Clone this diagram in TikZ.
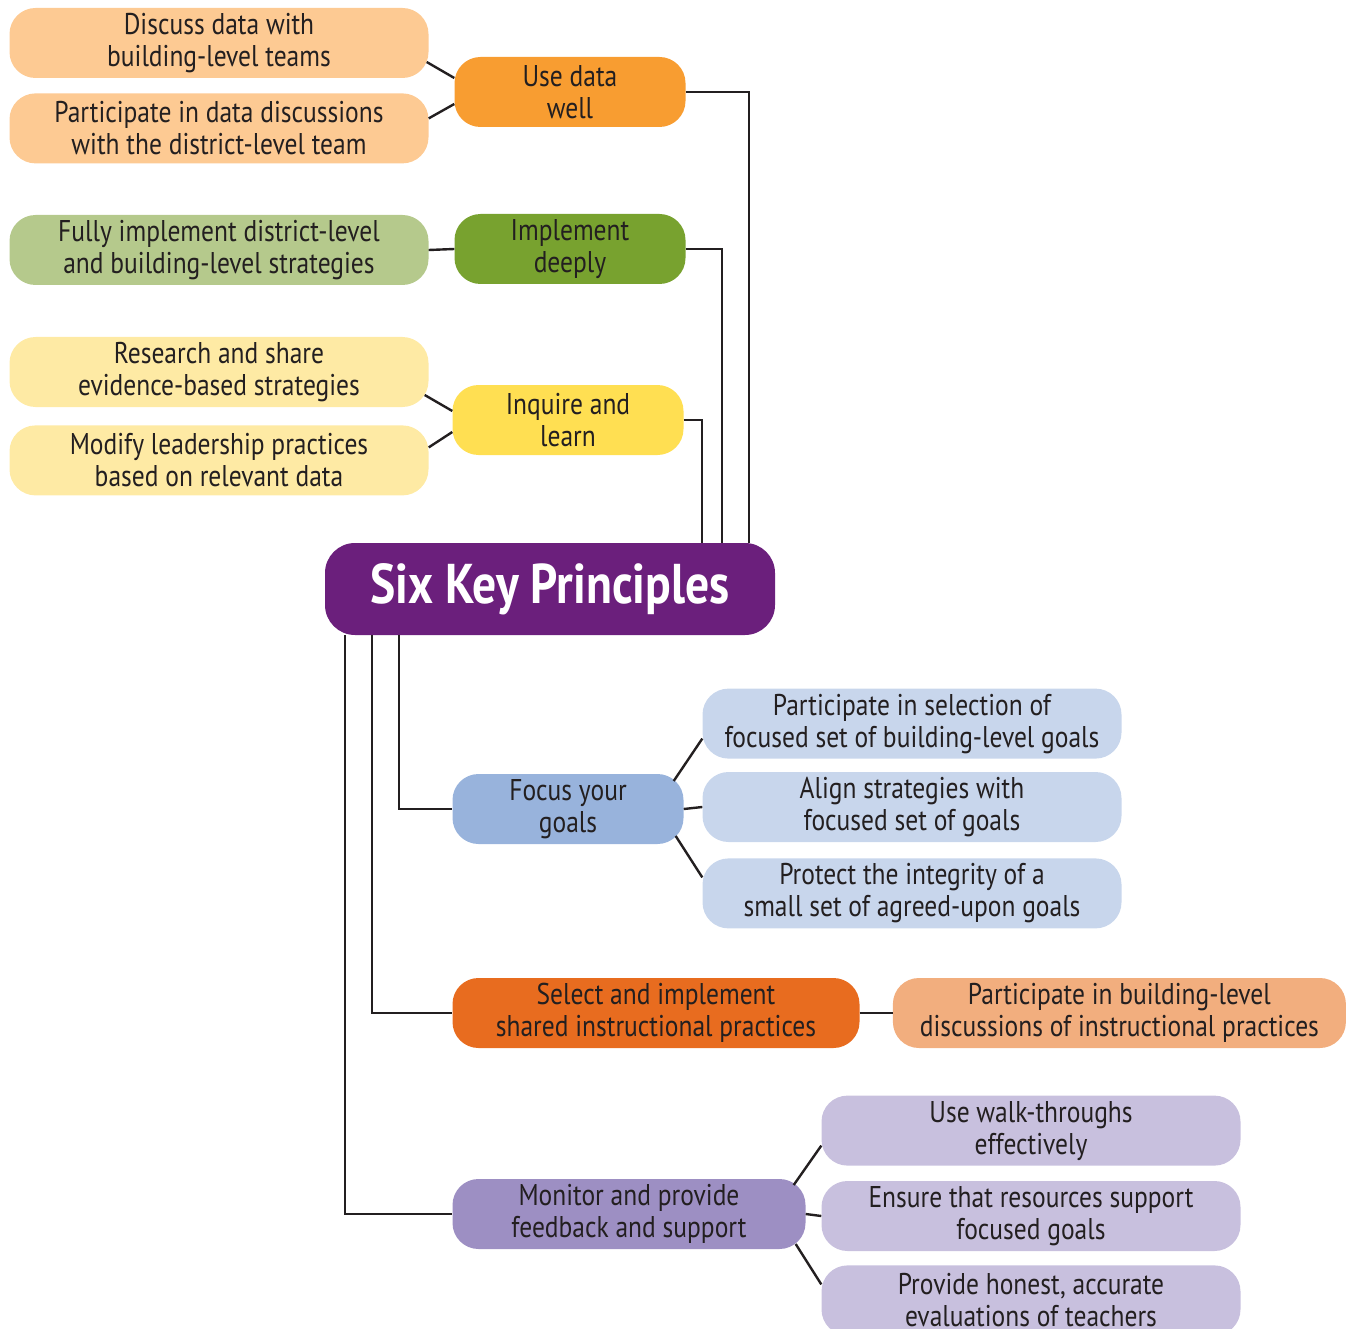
\documentclass[tikz,border=0pt]{standalone}
\usepackage{fontspec}
\setmainfont{PT Sans}[FakeStretch=0.85]
\usetikzlibrary{positioning,calc}

\definecolor{datalt}{HTML}{FDCA93}
\definecolor{datadk}{HTML}{F89D31}
\definecolor{impllt}{HTML}{B5C98C}
\definecolor{impldk}{HTML}{78A22F}
\definecolor{inqlt}{HTML}{FEEAA4}
\definecolor{inqdk}{HTML}{FFDF52}
\definecolor{keypurple}{HTML}{6B1F7C}
\definecolor{goallt}{HTML}{C8D6EC}
\definecolor{goaldk}{HTML}{98B3DC}
\definecolor{praclt}{HTML}{F2AE7E}
\definecolor{pracdk}{HTML}{E86C1F}
\definecolor{monlt}{HTML}{C8C0DE}
\definecolor{mondk}{HTML}{9D8FC3}
\definecolor{ink}{HTML}{231F20}

\begin{document}
\begin{tikzpicture}[
  x=1pt, y=-1pt,
  box/.style={rectangle, rounded corners=26pt, align=center, text=ink,
              font=\fontsize{30}{32}\selectfont, minimum height=70pt,
              inner sep=0pt},
  leaf/.style={box, minimum width=419pt},
  head/.style={box, minimum width=231pt},
  link/.style={draw, line width=2.4pt, ink},
  node distance=15pt and 26pt
]
\useasboundingbox (0,0) rectangle (1351,1329);

% upper branches
\node[head, fill=datadk] (usedata) at (570,92) {Use data\\well};
\node[leaf, fill=datalt] (discuss) at (219,43) {Discuss data with\\building-level teams};
\node[leaf, fill=datalt, below=15pt of discuss] (partdata) {Participate in data discussions\\with the district-level team};
\node[head, fill=impldk] (deeply) at (570,249) {Implement\\deeply};
\node[leaf, fill=impllt] (fully) at (219,250) {Fully implement district-level\\and building-level strategies};
\node[head, fill=inqdk] (inquire) at (568,420) {Inquire and\\learn};
\node[leaf, fill=inqlt] (research) at (219,372) {Research and share\\evidence-based strategies};
\node[leaf, fill=inqlt, below=18pt of research] (modify) {Modify leadership practices\\based on relevant data};

% centre
\node[box, fill=keypurple, text=white, rounded corners=30pt,
      minimum width=450pt, minimum height=92pt,
      font=\fontsize{56}{60}\selectfont\bfseries] (six) at (550,589) {Six Key Principles};

% lower branches
\node[head, fill=goaldk] (focus) at (568,809) {Focus your\\goals};
\node[leaf, fill=goallt] (goalB) at (912,807) {Align strategies with\\focused set of goals};
\node[leaf, fill=goallt, above=13pt of goalB] (goalA) {Participate in selection of\\focused set of building-level goals};
\node[leaf, fill=goallt, below=16pt of goalB] (goalC) {Protect the integrity of a\\small set of agreed-upon goals};
\node[box, fill=pracdk, minimum width=407pt] (select) at (656,1013) {Select and implement\\shared instructional practices};
\node[box, fill=praclt, minimum width=453pt, right=33pt of select] (partbldg) {Participate in building-level\\discussions of instructional practices};
\node[box, fill=mondk, minimum width=353pt] (monitor) at (629,1214) {Monitor and provide\\feedback and support};
\node[leaf, fill=monlt] (ensure) at (1031,1216) {Ensure that resources support\\focused goals};
\node[leaf, fill=monlt, above=15pt of ensure] (walk) {Use walk-throughs\\effectively};
\node[leaf, fill=monlt, below=14pt of ensure] (honest) {Provide honest, accurate\\evaluations of teachers};

% trunk lines
\draw[link] (usedata.east) -| ([xshift=199pt]six.north);
\draw[link] (deeply.east) -| ([xshift=172pt]six.north);
\draw[link] (inquire.east) -| ([xshift=152pt]six.north);
\draw[link] ([xshift=-151pt]six.south) |- (focus.west);
\draw[link] ([xshift=-178pt]six.south) |- (select.west);
\draw[link] ([xshift=-205pt]six.south) |- (monitor.west);

% leaf lines
\draw[link] ([xshift=-2pt,yshift=-19pt]discuss.east) -- ([yshift=14pt]usedata.west);
\draw[link] ([yshift=10pt]partdata.east) -- ([yshift=-12pt]usedata.west);
\draw[link] (fully.east) -- (deeply.west);
\draw[link] ([xshift=-4pt,yshift=-23pt]research.east) -- ([yshift=9pt]inquire.west);
\draw[link] ([yshift=13pt]modify.east) -- ([yshift=-12pt]inquire.west);
\draw[link] ([xshift=-10pt,yshift=28pt]focus.east) -- ([yshift=-15pt]goalA.west);
\draw[link] (focus.east) -- (goalB.west);
\draw[link] ([xshift=-8pt,yshift=-27pt]focus.east) -- ([yshift=16pt]goalC.west);
\draw[link] (select.east) -- (partbldg.west);
\draw[link] ([xshift=-12pt,yshift=29pt]monitor.east) -- ([yshift=-15pt]walk.west);
\draw[link] (monitor.east) -- (ensure.west);
\draw[link] ([xshift=-10pt,yshift=-30pt]monitor.east) -- ([yshift=16pt]honest.west);
\end{tikzpicture}
\end{document}
